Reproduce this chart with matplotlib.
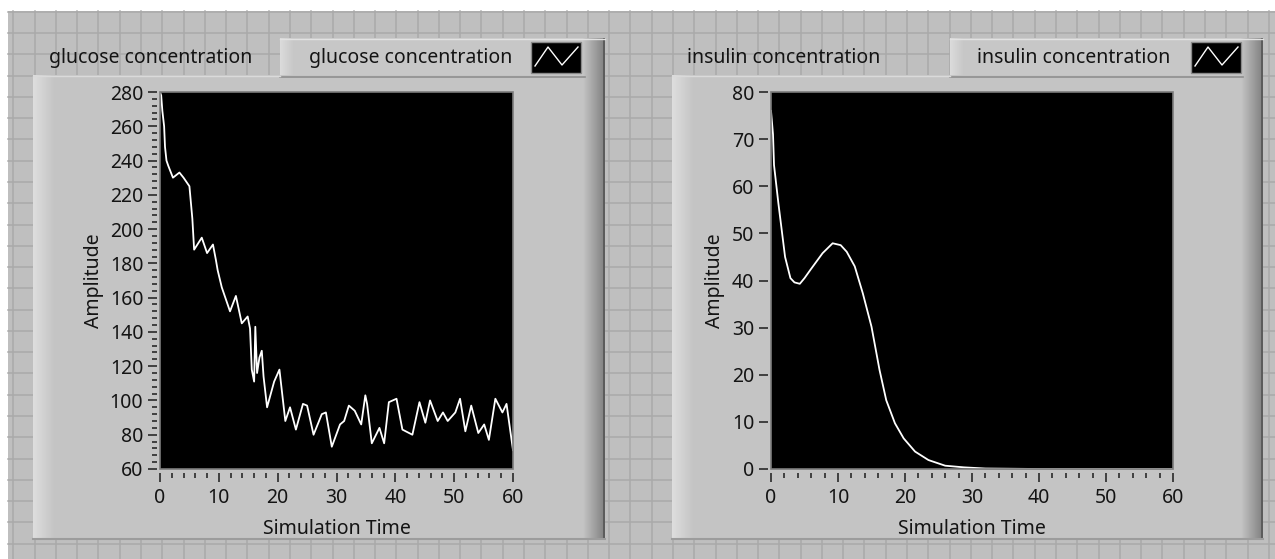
import numpy as np
import matplotlib
matplotlib.use("Agg")
import matplotlib.pyplot as plt
from matplotlib.patches import Rectangle
from matplotlib.ticker import MultipleLocator
from matplotlib.colors import to_rgb

plt.rcParams['font.family'] = ['Noto Sans', 'DejaVu Sans']

W, H = 1275, 559

# data
glucose_time = [0.0, 0.2, 0.4, 0.7, 0.85, 1.1, 1.4, 2.2, 3.3, 4.0,
                5.0, 5.5, 5.8, 7.1, 8.0, 9.0, 9.5, 9.8, 10.5, 11.9,
                12.9, 13.9, 14.9, 15.3, 15.6, 16.0, 16.2, 16.5, 16.9, 17.3,
                17.6, 18.2, 19.4, 20.3, 21.3, 22.1, 23.1, 24.3, 25.0, 26.1,
                27.5, 28.2, 29.2, 30.6, 31.3, 32.1, 33.1, 34.2, 34.9, 35.2,
                36.0, 37.3, 38.1, 38.9, 40.2, 41.2, 42.9, 44.1, 45.1, 45.9,
                47.2, 48.1, 48.9, 50.2, 51.0, 51.9, 52.9, 54.1, 55.1, 55.9,
                57.0, 58.2, 58.9, 60.0]
glucose_value = [280, 278, 269, 260, 248, 240, 237, 230, 233, 230,
                 225, 206, 188, 195, 186, 191, 182, 176, 166, 152,
                 161, 145, 149, 142, 118, 111, 143, 116, 125, 129,
                 114, 96, 111, 118, 88, 96, 83, 98, 97, 80,
                 92, 93, 73, 86, 88, 97, 94, 86, 103, 98,
                 75, 84, 75, 99, 101, 83, 80, 99, 87, 100,
                 88, 93, 88, 93, 101, 82, 97, 81, 86, 77,
                 101, 93, 98, 71]

insulin_time = [0, 0.3, 0.45, 1.1, 1.6, 2.1, 2.9, 3.5, 4.3, 5.0,
                5.9, 7.7, 9.2, 10.4, 11.3, 12.5, 13.7, 15.0, 16.2, 17.2,
                18.5, 19.8, 21.5, 23.5, 26.0, 28.8, 32.0, 40.0, 50.0, 60.0]
insulin_value = [76, 71, 64.5, 56.4, 50.7, 45, 40.5, 39.6, 39.3, 40.5,
                 42.3, 45.8, 47.9, 47.5, 46.1, 43, 37.3, 30.2, 21, 14.6,
                 9.7, 6.5, 3.7, 1.9, 0.7, 0.35, 0.1, 0, 0, 0]

x_label = 'Simulation Time'
y_label = 'Amplitude'
glucose_name = 'glucose concentration'
insulin_name = 'insulin concentration'

PANEL = '#c4c4c4'
TAB = '#c7c7c7'
BACK = '#bfbfbf'
GRIDC = '#a9a9a9'
TEXT = '#141414'
FS = 14


def gradient(bg, x0, x1, y0, y1, c0, c1, vertical=False):
    t = np.linspace(0, 1, 40)
    a, b = np.array(to_rgb(c0)), np.array(to_rgb(c1))
    img = a[None, :] * (1 - t[:, None]) + b[None, :] * t[:, None]
    img = img[:, None, :] if vertical else img[None, :, :]
    bg.imshow(img, extent=(x0, x1, y1, y0), aspect='auto',
              interpolation='bilinear', zorder=2)


def draw_panel(bg, x0, x1, y0, y1, tab_x0, tab_y0, name, name_x, tab_text_x, icon_x):
    bg.add_patch(Rectangle((tab_x0, tab_y0), x1 - tab_x0, y0 - tab_y0 + 2,
                           fc=TAB, ec='none', zorder=1))
    bg.add_patch(Rectangle((x0, y0), x1 - x0, y1 - y0, fc=PANEL, ec='none', zorder=1))
    gradient(bg, x0, x0 + 22, y0, y1, '#dedede', PANEL)
    gradient(bg, tab_x0, tab_x0 + 14, tab_y0, y0, '#dcdcdc', TAB)
    gradient(bg, x1 - 22, x1, tab_y0, y1, PANEL, '#808080')
    bg.add_patch(Rectangle((x1 - 2.5, tab_y0), 2.5, y1 - tab_y0, fc='#5c5c5c',
                           ec='none', zorder=3))
    bg.plot([tab_x0, x1 - 20], [y0 + 1.5, y0 + 1.5], color='#8e8e8e', lw=1.2, zorder=3)
    bg.plot([tab_x0, x1], [tab_y0 + 0.5, tab_y0 + 0.5], color='#e2e2e2', lw=1, zorder=3)
    bg.plot([x0, tab_x0], [y0 + 0.5, y0 + 0.5], color='#dadada', lw=1, zorder=3)
    bg.plot([x0, x1], [y1 - 1, y1 - 1], color='#9c9c9c', lw=1.5, zorder=3)

    bg.text(name_x, 58, name, fontsize=FS, color=TEXT, ha='left', va='center', zorder=4)
    bg.text(tab_text_x, 58, name, fontsize=FS, color=TEXT, ha='left', va='center', zorder=4)
    bg.add_patch(Rectangle((icon_x, 42), 50, 31, fc='black', ec='#8a8a8a', lw=1, zorder=4))
    bg.plot(icon_x + np.array([4, 17, 31, 47]), [66, 47, 65, 47], color='white',
            lw=1, zorder=5)


def setup_axes(ax, ylim, ymajor, yminor, ylabel_x):
    ax.set_facecolor('black')
    ax.set_xlim(0, 60)
    ax.set_ylim(*ylim)
    for s in ax.spines.values():
        s.set_visible(False)
    ax.spines['left'].set_position(('outward', 2.5))
    ax.spines['bottom'].set_position(('outward', 3))
    ax.add_patch(Rectangle((0, 0), 1, 1, transform=ax.transAxes, fill=False,
                           ec='#7c7c7c', lw=1.2, clip_on=False, zorder=5))
    ax.xaxis.set_major_locator(MultipleLocator(10))
    ax.xaxis.set_minor_locator(MultipleLocator(2))
    ax.yaxis.set_major_locator(MultipleLocator(ymajor))
    if yminor:
        ax.yaxis.set_minor_locator(MultipleLocator(yminor))
    ax.tick_params(which='major', direction='out', length=6.5, width=1.2,
                   color='#2a2a2a', labelsize=FS, labelcolor=TEXT, pad=3)
    ax.tick_params(which='minor', direction='out', length=3.5, width=1.2,
                   color='#2a2a2a')
    ax.tick_params(axis='x', which='major', pad=4.5)
    ax.set_xlabel(x_label, fontsize=FS, color=TEXT)
    ax.set_ylabel(y_label, fontsize=FS, color=TEXT)
    ax.xaxis.label.set_va('center')
    ax.yaxis.label.set_va('center')
    ax.xaxis.set_label_coords(0.5, -0.158)
    ax.yaxis.set_label_coords(ylabel_x, 0.5)


def px_axes(fig, left, top, right, bottom):
    return fig.add_axes([left / W, (H - bottom) / H, (right - left) / W, (bottom - top) / H])


fig = plt.figure(figsize=(W / 100, H / 100), dpi=100)
fig.patch.set_facecolor('white')

# front panel background with grid
bg = fig.add_axes([0, 0, 1, 1])
bg.set_axis_off()
bg.add_patch(Rectangle((8, 11), W - 8, H - 11, fc=BACK, ec='none', zorder=0))
for gx in np.arange(13.3, W, 21.28):
    bg.plot([gx, gx], [11, H], color=GRIDC, lw=1.1, zorder=0.5)
for gy in np.arange(11.7, H, 21.28):
    bg.plot([8, W], [gy, gy], color=GRIDC, lw=1.1, zorder=0.5)

draw_panel(bg, 33, 605, 75, 540, 280, 38, glucose_name, 49, 309, 531)
draw_panel(bg, 672, 1263, 75, 540, 950, 38, insulin_name, 687, 977, 1191)
bg.set_xlim(0, W)
bg.set_ylim(H, 0)

ax1 = px_axes(fig, 160, 92, 513, 469)
ax1.plot(glucose_time, glucose_value, color='white', lw=1.3)
setup_axes(ax1, (60, 280), 20, 4, (93.5 - 160) / 353)

ax2 = px_axes(fig, 771, 92, 1173, 469)
ax2.plot(insulin_time, insulin_value, color='white', lw=1.3)
setup_axes(ax2, (0, 80), 10, None, (715 - 771) / 402)

fig.savefig('out.png', dpi=100)
plt.close(fig)
